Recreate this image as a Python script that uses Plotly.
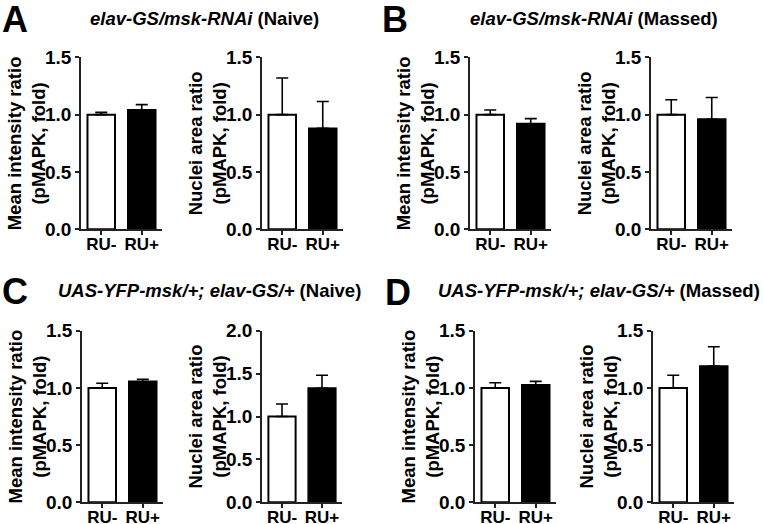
import plotly.graph_objects as go

W, H = 763, 524

categories = ["RU-", "RU+"]
bar_colors = ["white", "black"]

# Panel A: elav-GS/msk-RNAi (Naive)
a_intensity = [1.00, 1.04]
a_intensity_err = [0.02, 0.047]
a_area = [1.00, 0.88]
a_area_err = [0.32, 0.235]

# Panel B: elav-GS/msk-RNAi (Massed)
b_intensity = [1.00, 0.92]
b_intensity_err = [0.04, 0.045]
b_area = [1.00, 0.96]
b_area_err = [0.13, 0.19]

# Panel C: UAS-YFP-msk/+; elav-GS/+ (Naive)
c_intensity = [1.00, 1.055]
c_intensity_err = [0.04, 0.02]
c_area = [1.00, 1.33]
c_area_err = [0.145, 0.15]

# Panel D: UAS-YFP-msk/+; elav-GS/+ (Massed)
d_intensity = [1.00, 1.025]
d_intensity_err = [0.045, 0.032]
d_area = [1.00, 1.19]
d_area_err = [0.11, 0.17]

intensity_title = "Mean intensity ratio<br>(pMAPK, fold)"
area_title = "Nuclei area ratio<br>(pMAPK, fold)"

panel_letters = ["A", "B", "C", "D"]
panel_titles = [
    "<i>elav-GS/msk-RNAi</i> (Naive)",
    "<i>elav-GS/msk-RNAi</i> (Massed)",
    "<i>UAS-YFP-msk/+; elav-GS/+</i> (Naive)",
    "<i>UAS-YFP-msk/+; elav-GS/+</i> (Massed)",
]

FONT = "Liberation Sans, Arial, sans-serif"

# subplot layout in pixels: (x0, x1, y_top, y_bottom, ymax, ytitle)
plots = [
    (81, 162, 57.3, 229.3, 1.5, intensity_title, a_intensity, a_intensity_err),
    (262, 343, 57.3, 229.3, 1.5, area_title, a_area, a_area_err),
    (470, 551, 57.3, 229.3, 1.5, intensity_title, b_intensity, b_intensity_err),
    (651, 732, 57.3, 229.3, 1.5, area_title, b_area, b_area_err),
    (82, 163, 330.7, 502.3, 1.5, intensity_title, c_intensity, c_intensity_err),
    (262, 342, 330.7, 502.3, 2.0, area_title, c_area, c_area_err),
    (475, 556, 330.7, 502.3, 1.5, intensity_title, d_intensity, d_intensity_err),
    (653, 734, 330.7, 502.3, 1.5, area_title, d_area, d_area_err),
]

fig = go.Figure()
layout = dict(
    template="none",
    width=W, height=H,
    margin=dict(l=0, r=0, t=0, b=0, pad=0, autoexpand=False),
    paper_bgcolor="white", plot_bgcolor="white",
    showlegend=False,
    font=dict(family=FONT, color="black"),
    bargap=0.3,
)
annotations = []
axis_color = "#222222"

for i, (x0, x1, yt, yb, ymax, ytitle, vals, errs) in enumerate(plots):
    n = i + 1
    xa = "x" if n == 1 else f"x{n}"
    ya = "y" if n == 1 else f"y{n}"
    fig.add_trace(go.Bar(
        x=categories, y=vals,
        xaxis=xa, yaxis=ya,
        width=0.68,
        marker=dict(color=bar_colors, line=dict(color="black", width=2)),
        error_y=dict(type="data", symmetric=False, array=errs,
                     arrayminus=[0] * len(errs),
                     color="black", thickness=1.6, width=6),
        hoverinfo="skip",
    ))
    layout[f"xaxis{n}"] = dict(
        domain=[x0 / W, x1 / W], anchor=ya, automargin=False,
        type="category", range=[-0.5, 1.5],
        showline=True, linecolor=axis_color, linewidth=1.6,
        ticks="outside", ticklen=4, tickwidth=1.5, tickcolor=axis_color,
        ticklabelstandoff=-6,
        tickfont=dict(size=17, family=FONT, weight="bold", color="black"),
        showgrid=False, zeroline=False, fixedrange=True,
    )
    layout[f"yaxis{n}"] = dict(
        domain=[1 - yb / H, 1 - yt / H], anchor=xa, automargin=False,
        range=[0, ymax], dtick=0.5, tickformat=".1f",
        showline=True, linecolor=axis_color, linewidth=1.6,
        ticks="outside", ticklen=4, tickwidth=1.5, tickcolor=axis_color,
        tickfont=dict(size=19, family=FONT, weight="bold", color="black"),
        showgrid=False, zeroline=False, fixedrange=True,
    )
    annotations.append(dict(
        xref="paper", yref="paper",
        x=(x0 - 55) / W, y=1 - (yt + yb) / 2 / H,
        xanchor="center", yanchor="middle",
        text=f"<b>{ytitle}</b>", textangle=-90, showarrow=False,
        font=dict(size=18.5, family=FONT, color="black"),
    ))

# panel letters and headings
letter_pos = [(0, 19.5), (380, 19.5), (0, 291.5), (383, 292)]
title_pos = [(88, 18.5), (468, 18.5), (56, 290), (436, 290)]
for letter, (lx, ly), title, (tx, ty) in zip(panel_letters, letter_pos, panel_titles, title_pos):
    annotations.append(dict(
        xref="paper", yref="paper", x=lx / W, y=1 - ly / H,
        xanchor="left", yanchor="middle", showarrow=False,
        text=f"<b>{letter}</b>",
        font=dict(size=36, family=FONT, color="black"),
    ))
    annotations.append(dict(
        xref="paper", yref="paper", x=tx / W, y=1 - ty / H,
        xanchor="left", yanchor="middle", showarrow=False,
        text=f"<b>{title}</b>",
        font=dict(size=18.5, family=FONT, color="black"),
    ))

layout["annotations"] = annotations
fig.update_layout(**layout)
fig.write_html(
    "out.html",
    config={"displayModeBar": False},
    post_script="document.body.style.margin='0';document.body.style.overflow='hidden';",
)
